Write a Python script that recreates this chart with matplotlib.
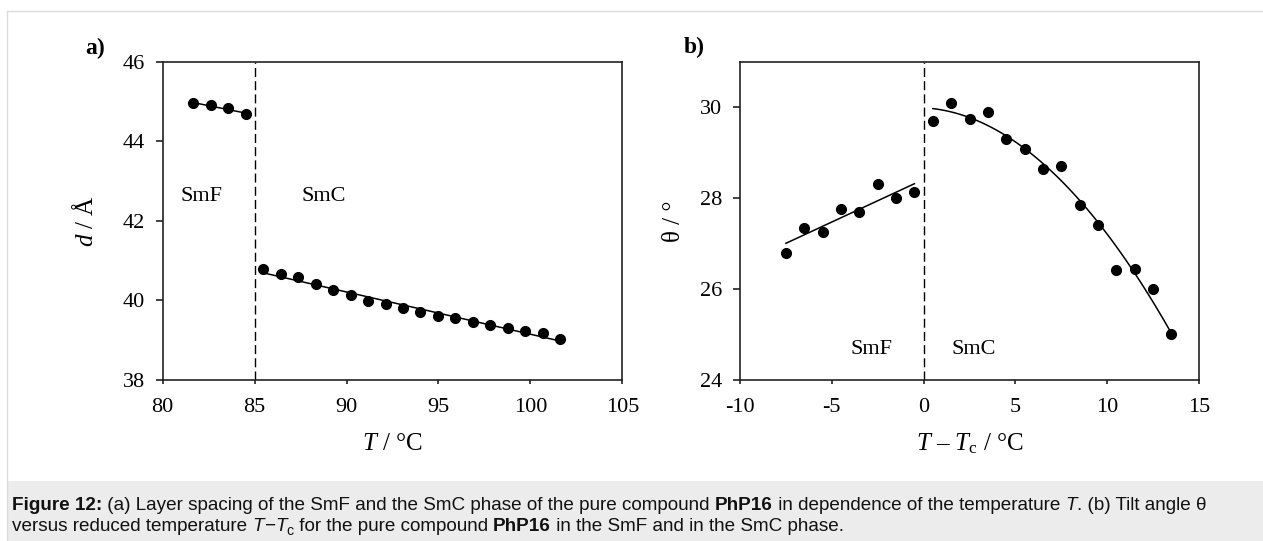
import matplotlib
matplotlib.use("Agg")
import matplotlib.pyplot as plt
import matplotlib.transforms as mtransforms
import numpy as np
from matplotlib import font_manager

# panel a: layer spacing d vs T
t_smf = [81.67, 82.62, 83.57, 84.52]
d_smf = [44.95, 44.90, 44.83, 44.68]
t_smc = [85.47, 86.42, 87.37, 88.32, 89.27, 90.22, 91.17, 92.12, 93.07,
         94.02, 94.97, 95.92, 96.87, 97.82, 98.77, 99.72, 100.67, 101.62]
d_smc = [40.79, 40.67, 40.58, 40.41, 40.26, 40.14, 39.99, 39.91, 39.80,
         39.72, 39.62, 39.57, 39.46, 39.39, 39.30, 39.24, 39.17, 39.03]
t_transition = 85

# panel b: tilt angle vs T - Tc
dt_smf = [-7.5, -6.5, -5.5, -4.5, -3.5, -2.5, -1.5, -0.5]
theta_smf = [26.80, 27.35, 27.25, 27.75, 27.70, 28.30, 28.00, 28.14]
dt_smc = [0.5, 1.5, 2.5, 3.5, 4.5, 5.5, 6.5, 7.5, 8.5, 9.5, 10.5, 11.5, 12.5, 13.5]
theta_smc = [29.69, 30.10, 29.74, 29.89, 29.29, 29.09, 28.65, 28.70,
             27.85, 27.40, 26.41, 26.45, 26.00, 25.01]

a_xticks = [80, 85, 90, 95, 100, 105]
a_yticks = [38, 40, 42, 44, 46]
b_xticks = [-10, -5, 0, 5, 10, 15]
b_yticks = [24, 26, 28, 30]

SERIF = "Liberation Serif"
installed = {f.name for f in font_manager.fontManager.ttflist}
CAPTION_FONT = "Liberation Sans Narrow" if "Liberation Sans Narrow" in installed else "Liberation Sans"

plt.rcParams["font.family"] = [SERIF, "DejaVu Serif"]
plt.rcParams["axes.unicode_minus"] = False
plt.rcParams["mathtext.fontset"] = "custom"
plt.rcParams["mathtext.rm"] = SERIF
plt.rcParams["mathtext.it"] = SERIF + ":italic"
plt.rcParams["mathtext.bf"] = SERIF + ":bold"

W, H = 1263, 541
fig = plt.figure(figsize=(W / 100, H / 100), dpi=100)
fig.patch.set_facecolor("white")


def px_axes(x0, x1, y_top, y_bot):
    return fig.add_axes([x0 / W, (H - y_bot) / H, (x1 - x0) / W, (y_bot - y_top) / H])


def style_axes(ax):
    for sp in ax.spines.values():
        sp.set_linewidth(1.2)
        sp.set_color("#222222")
    ax.tick_params(axis="both", labelsize=16, width=1.2, color="#222222")
    ax.tick_params(axis="y", direction="out", length=4.8, pad=8)
    ax.tick_params(axis="x", direction="out", length=3.2, pad=10)


def draw_fit(ax, x, y, deg):
    coef = np.polyfit(x, y, deg)
    xs = np.linspace(min(x), max(x), 100)
    ax.plot(xs, np.polyval(coef, xs), color="black", lw=1.1, zorder=2)


# ---- panel a ----
ax_a = px_axes(162.7, 622.3, 61.7, 380)
style_axes(ax_a)
ax_a.set_xlim(80, 105)
ax_a.set_ylim(38, 46)
ax_a.set_xticks(a_xticks)
ax_a.set_yticks(a_yticks)
ax_a.axvline(t_transition, color="black", lw=1.0, dashes=(6.5, 3))
draw_fit(ax_a, t_smf, d_smf, 1)
draw_fit(ax_a, t_smc, d_smc, 1)
ax_a.plot(t_smf, d_smf, "o", color="black", ms=7, zorder=3)
ax_a.plot(t_smc, d_smc, "o", color="black", ms=7, zorder=3)
ax_a.text(82.1, 42.6, "SmF", fontsize=16, ha="center", va="center")
ax_a.text(88.75, 42.6, "SmC", fontsize=16, ha="center", va="center")
ax_a.set_xlabel(r"$T$ / °C", fontsize=18, va="center")
ax_a.xaxis.set_label_coords(0.5, -0.2)
ax_a.set_ylabel(r"$d$ / Å", fontsize=18, va="center")
ax_a.yaxis.set_label_coords(-0.167, 0.5)

# ---- panel b ----
ax_b = px_axes(740, 1199, 61.7, 380)
style_axes(ax_b)
ax_b.set_xlim(-10, 15)
ax_b.set_ylim(24, 31)
ax_b.set_xticks(b_xticks)
ax_b.set_yticks(b_yticks)
ax_b.axvline(0, color="black", lw=1.0, dashes=(6.5, 3))
draw_fit(ax_b, dt_smf, theta_smf, 1)
draw_fit(ax_b, dt_smc, theta_smc, 2)
ax_b.plot(dt_smf, theta_smf, "o", color="black", ms=7, zorder=3)
ax_b.plot(dt_smc, theta_smc, "o", color="black", ms=7, zorder=3)
ax_b.text(-2.83, 24.66, "SmF", fontsize=16, ha="center", va="center")
ax_b.text(2.75, 24.66, "SmC", fontsize=16, ha="center", va="center")
ax_b.set_xlabel(r"$T$ – $T_\mathrm{c}$ / °C", fontsize=18, va="center")
ax_b.xaxis.set_label_coords(0.5, -0.2)
ax_b.set_ylabel("θ / °", fontsize=18, va="center")
ax_b.yaxis.set_label_coords(-0.1436, 0.5)

# panel letters
ident = mtransforms.IdentityTransform()
fig.text(95, H - 48, "a)", transform=ident, fontsize=17, fontweight="bold", ha="center", va="center")
fig.text(694, H - 47, "b)", transform=ident, fontsize=17, fontweight="bold", ha="center", va="center")

# ---- frame and caption box ----
fig.patches.append(plt.Rectangle((7, 0), W - 7, H - 481, transform=ident,
                                 facecolor="#ececec", edgecolor="none", zorder=0))
fig.lines.append(plt.Line2D([7, W], [H - 11, H - 11], transform=ident, color="#dcdcdc", lw=1))
fig.lines.append(plt.Line2D([7, 7], [0, H - 11], transform=ident, color="#dcdcdc", lw=1))


def draw_runs(x, y, runs, size=13.6):
    renderer = fig.canvas.get_renderer()
    for text, weight, style, dy, scale in runs:
        t = fig.text(x, y + dy, text, transform=ident, fontsize=size * scale,
                     fontweight=weight, fontstyle=style, family=[CAPTION_FONT, "DejaVu Sans"],
                     ha="left", va="baseline", color="#111111")
        x = t.get_window_extent(renderer).x1


N, B, I = "normal", "bold", "italic"
line1 = [
    ("Figure 12:", B, N, 0, 1),
    (" (a) Layer spacing of the SmF and the SmC phase of the pure compound ", N, N, 0, 1),
    ("PhP16", B, N, 0, 1),
    (" in dependence of the temperature ", N, N, 0, 1),
    ("T", N, I, 0, 1),
    (". (b) Tilt angle θ", N, N, 0, 1),
]
line2 = [
    ("versus reduced temperature ", N, N, 0, 1),
    ("T", N, I, 0, 1),
    ("−", N, N, 0, 1),
    ("T", N, I, 0, 1),
    ("c", N, N, -4, 0.75),
    (" for the pure compound ", N, N, 0, 1),
    ("PhP16", B, N, 0, 1),
    (" in the SmF and in the SmC phase.", N, N, 0, 1),
]
draw_runs(12, H - 510, line1)
draw_runs(12, H - 531, line2)

fig.savefig("out.png", dpi=100)
